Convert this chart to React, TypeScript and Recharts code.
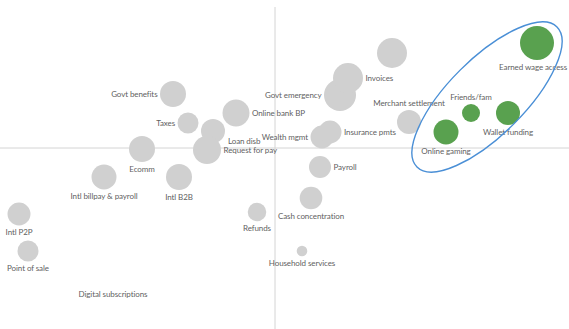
import {
  ScatterChart, Scatter, XAxis, YAxis, ZAxis, ReferenceLine, ReferenceDot,
} from 'recharts'

// grey (other use cases)
const GREY_NAMES = [
  'Govt benefits', 'Taxes', 'Loan disb', 'Request for pay', 'Online bank BP',
  'Ecomm', 'Intl B2B', 'Intl billpay & payroll', 'Intl P2P', 'Point of sale',
  'Digital subscriptions', 'Refunds', 'Household services', 'Cash concentration',
  'Payroll', 'Wealth mgmt', 'Insurance pmts', 'Govt emergency', 'Invoices', '',
  'Merchant settlement',
]
const GREY_X = [
  -2.04, -1.74, -1.24, -1.36, -0.78,
  -2.66, -1.92, -3.42, -5.12, -4.94,
  -3.24, -0.36, 0.54, 0.72,
  0.9, 0.94, 1.1, 1.3, 1.46, 2.34,
  2.68,
]
const GREY_Y = [
  1.08, 0.5, 0.34, -0.04, 0.7,
  -0.02, -0.58, -0.58, -1.32, -2.06,
  -2.92, -1.28, -2.06, -1.0,
  -0.38, 0.22, 0.32, 1.06, 1.4, 1.9,
  0.52,
]
const GREY_SIZE = [
  169, 110, 144, 196, 182,
  169, 169, 156, 132, 110,
  0, 86, 28, 128,
  121, 132, 132, 256, 225, 225,
  144,
]

// green (highlighted)
const GREEN_NAMES = ['Earned wage access', 'Friends/fam', 'Wallet funding', 'Online gaming']
const GREEN_X = [5.24, 3.92, 4.66, 3.42]
const GREEN_Y = [2.1, 0.7, 0.7, 0.32]
const GREEN_SIZE = [289, 81, 144, 156]

const HIGHLIGHT_CENTER = { x: 4.24, y: 1.02 }

// where each label sits relative to its bubble
const LABEL_SPOT: Record<string, string> = {
  'Govt benefits': 'left',
  'Taxes': 'left',
  'Loan disb': 'belowright',
  'Request for pay': 'right',
  'Online bank BP': 'right',
  'Ecomm': 'below',
  'Intl B2B': 'below',
  'Intl billpay & payroll': 'below',
  'Intl P2P': 'below',
  'Point of sale': 'below',
  'Digital subscriptions': 'center',
  'Refunds': 'below',
  'Household services': 'below',
  'Cash concentration': 'below',
  'Payroll': 'right',
  'Wealth mgmt': 'left',
  'Insurance pmts': 'right',
  'Govt emergency': 'left',
  'Invoices': 'right',
  'Merchant settlement': 'above',
  'Earned wage access': 'belowedge',
  'Friends/fam': 'above',
  'Wallet funding': 'below',
  'Online gaming': 'below',
}

const toRows = (names: string[], xs: number[], ys: number[], zs: number[]) =>
  names.map((name, i) => ({ name, x: xs[i], y: ys[i], z: zs[i] }))

const greyData = toRows(GREY_NAMES, GREY_X, GREY_Y, GREY_SIZE)
const greenData = toRows(GREEN_NAMES, GREEN_X, GREEN_Y, GREEN_SIZE)

const FONT = 'Lato, "Open Sans", sans-serif'

function Bubble(props: any, fill: string) {
  const { cx, cy, payload } = props
  const r = props.width ? props.width / 2 : Math.sqrt(Math.max(props.size || 0, 0) / Math.PI)
  const spot = LABEL_SPOT[payload.name] || 'below'
  let tx = cx
  let ty = cy
  let anchor: 'start' | 'middle' | 'end' = 'middle'
  if (spot === 'left') { tx = cx - r - 2.5; anchor = 'end' }
  if (spot === 'right') { tx = cx + r + 2.5; anchor = 'start' }
  if (spot === 'below') ty = cy + r + 6.5
  if (spot === 'above') ty = cy - r - 7
  if (spot === 'belowright') { tx = cx + 15; ty = cy + 10; anchor = 'start' }
  // keep the label inside the right edge
  if (spot === 'belowedge') { tx = 567; ty = cy + r + 6.5; anchor = 'end' }
  return (
    <g>
      {r > 0 && <circle cx={cx} cy={cy} r={r} fill={fill} />}
      {payload.name && (
        <text
          x={tx} y={ty} textAnchor={anchor} dominantBaseline="central"
          fontSize={8} fill="#5f5f5f" fontFamily={FONT} letterSpacing={-0.1}
        >
          {payload.name}
        </text>
      )}
    </g>
  )
}

export default function App() {
  return (
    <div style={{ position: 'absolute', left: 0, top: 0, background: '#fff' }}>
      <ScatterChart width={569} height={329} margin={{ top: 7, right: 0, bottom: 0, left: 0 }}>
        <XAxis type="number" dataKey="x" domain={[-5.5, 5.88]} hide allowDataOverflow />
        <YAxis type="number" dataKey="y" domain={[-3.62, 2.82]} hide allowDataOverflow />
        <ZAxis type="number" dataKey="z" domain={[0, 300]} range={[0, 300 * Math.PI]} />
        <ReferenceLine x={0} stroke="#d4d4d4" strokeWidth={1} />
        <ReferenceLine y={0} stroke="#d4d4d4" strokeWidth={1} />
        <Scatter
          data={greyData}
          isAnimationActive={false}
          shape={(p: any) => Bubble(p, '#d0d0d0')}
        />
        <Scatter
          data={greenData}
          isAnimationActive={false}
          shape={(p: any) => Bubble(p, '#59a14f')}
        />
        <ReferenceDot
          x={HIGHLIGHT_CENTER.x}
          y={HIGHLIGHT_CENTER.y}
          shape={(p: any) => (
            <ellipse
              cx={p.cx} cy={p.cy} rx={99} ry={38}
              transform={`rotate(-45 ${p.cx} ${p.cy})`}
              fill="none" stroke="#4a8fd6" strokeWidth={1.4}
            />
          )}
        />
      </ScatterChart>
    </div>
  )
}
